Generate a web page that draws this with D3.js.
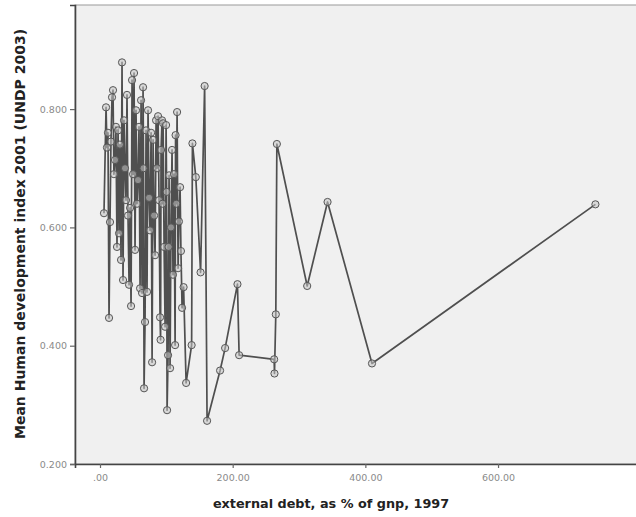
<!DOCTYPE html>
<html>
<head>
<meta charset="utf-8">
<script src="https://cdn.jsdelivr.net/npm/d3@7"></script>
<style>
  html, body { margin: 0; padding: 0; background: #ffffff; }
  svg { display: block; }
</style>
</head>
<body>
<svg id="chart" width="636" height="517"></svg>
<script>
// External debt (% of GNP, 1997) for each group, sorted ascending
const debt = [
  6.0, 9.1, 10.5, 12.0, 13.6, 15.1, 16.5, 18.1, 19.6, 21.0,
  22.6, 24.0, 25.6, 27.2, 28.7, 30.0, 31.7, 33.2, 34.7, 36.2,
  37.7, 39.2, 40.7, 42.2, 43.8, 45.3, 46.8, 48.3, 49.8, 51.3,
  52.8, 54.3, 55.8, 57.3, 58.8, 60.4, 61.9, 63.4, 64.9, 65.6,
  66.4, 67.9, 69.4, 70.9, 72.4, 74.0, 75.4, 77.0, 78.5, 80.0,
  81.5, 83.0, 84.5, 86.0, 87.5, 89.0, 90.5, 91.3, 92.0, 93.5,
  94.3, 95.1, 96.6, 98.1, 99.6, 100.4, 101.1, 102.6, 103.4, 104.1,
  105.6, 107.0, 108.6, 110.0, 111.5, 113.2, 113.9, 115.0, 116.2, 117.7,
  119.0, 120.7, 122.0, 123.7, 126.0, 129.8, 138.1, 139.3, 144.4, 151.6,
  157.7, 161.4, 181.0, 188.6, 207.2, 209.7, 262.5, 263.0, 265.0, 266.6,
  312.3, 343.0, 410.0, 746.8
];
// Mean Human Development Index 2001 for each debt value
const meanHdi = [
  0.624, 0.803, 0.735, 0.760, 0.447, 0.609, 0.745, 0.820, 0.832, 0.690,
  0.714, 0.770, 0.567, 0.764, 0.590, 0.740, 0.545, 0.879, 0.511, 0.781,
  0.700, 0.646, 0.824, 0.620, 0.503, 0.633, 0.467, 0.849, 0.690, 0.861,
  0.562, 0.798, 0.640, 0.680, 0.770, 0.497, 0.815, 0.489, 0.837, 0.700,
  0.328, 0.440, 0.764, 0.491, 0.798, 0.650, 0.595, 0.760, 0.372, 0.748,
  0.620, 0.553, 0.781, 0.700, 0.788, 0.646, 0.448, 0.410, 0.731, 0.781,
  0.640, 0.776, 0.567, 0.432, 0.773, 0.660, 0.291, 0.384, 0.567, 0.688,
  0.362, 0.600, 0.731, 0.520, 0.690, 0.401, 0.756, 0.640, 0.795, 0.531,
  0.610, 0.668, 0.560, 0.464, 0.499, 0.337, 0.401, 0.742, 0.685, 0.524,
  0.839, 0.273, 0.358, 0.396, 0.504, 0.384, 0.377, 0.353, 0.453, 0.741,
  0.501, 0.643, 0.370, 0.639
];
const xTicks = [0, 200, 400, 600];
const yTicks = [0.2, 0.4, 0.6, 0.8];
const xTitle = "external debt, as % of gnp, 1997";
const yTitle = "Mean Human development index 2001 (UNDP 2003)";

const points = debt.map((d, i) => ({ x: d, y: meanHdi[i] }));

const svg = d3.select("#chart");
const plot = { left: 75, top: 5, right: 640, bottom: 464 };

const x = d3.scaleLinear().domain([-37.7, 814]).range([plot.left, plot.right]);
const y = d3.scaleLinear().domain([0.2, 0.976]).range([plot.bottom, plot.top]);

// plot area background and frame
svg.append("rect")
  .attr("x", plot.left).attr("y", plot.top)
  .attr("width", plot.right - plot.left).attr("height", plot.bottom - plot.top)
  .attr("fill", "#f0f0f0").attr("stroke", "#9a9a9a").attr("stroke-width", 1);

const fmtX = v => { const s = d3.format(".2f")(v); return s.startsWith("0.") ? s.slice(1) : s; };
const fmtY = d3.format(".3f");

const xAxis = svg.append("g")
  .attr("transform", `translate(0,${plot.bottom})`)
  .call(d3.axisBottom(x).tickValues(xTicks).tickFormat(fmtX).tickSize(4).tickPadding(6));
const yAxis = svg.append("g")
  .attr("transform", `translate(${plot.left},0)`)
  .call(d3.axisLeft(y).tickValues(yTicks).tickFormat(fmtY).tickSize(5).tickPadding(3));

[xAxis, yAxis].forEach(g => {
  g.select(".domain").attr("stroke", "#444").attr("stroke-width", 1.6);
  g.selectAll(".tick line").attr("stroke", "#666").attr("stroke-width", 1.2);
  g.selectAll(".tick text")
    .attr("fill", "#8a8a8a")
    .attr("font-family", "DejaVu Sans, sans-serif")
    .attr("font-size", 9.5);
});

// connecting line through the group means
const line = d3.line().x(d => x(d.x)).y(d => y(d.y));
svg.append("path")
  .datum(points)
  .attr("d", line)
  .attr("fill", "none")
  .attr("stroke", "#333")
  .attr("stroke-opacity", 0.85)
  .attr("stroke-width", 1.7)
  .attr("stroke-linejoin", "round");

// point markers
svg.append("g").selectAll("circle")
  .data(points)
  .join("circle")
  .attr("cx", d => x(d.x))
  .attr("cy", d => y(d.y))
  .attr("r", 3.6)
  .attr("fill", "#c4c4c4")
  .attr("fill-opacity", 0.55)
  .attr("stroke", "#555")
  .attr("stroke-width", 1);

// axis titles
svg.append("text")
  .attr("x", 331).attr("y", 508)
  .attr("text-anchor", "middle")
  .attr("font-family", "DejaVu Sans, sans-serif")
  .attr("font-weight", "bold")
  .attr("font-size", 12.8)
  .attr("fill", "#222")
  .text(xTitle);

svg.append("text")
  .attr("transform", "translate(25,234) rotate(-90)")
  .attr("text-anchor", "middle")
  .attr("font-family", "DejaVu Sans, sans-serif")
  .attr("font-weight", "bold")
  .attr("font-size", 14)
  .attr("fill", "#222")
  .text(yTitle);
</script>
</body>
</html>
